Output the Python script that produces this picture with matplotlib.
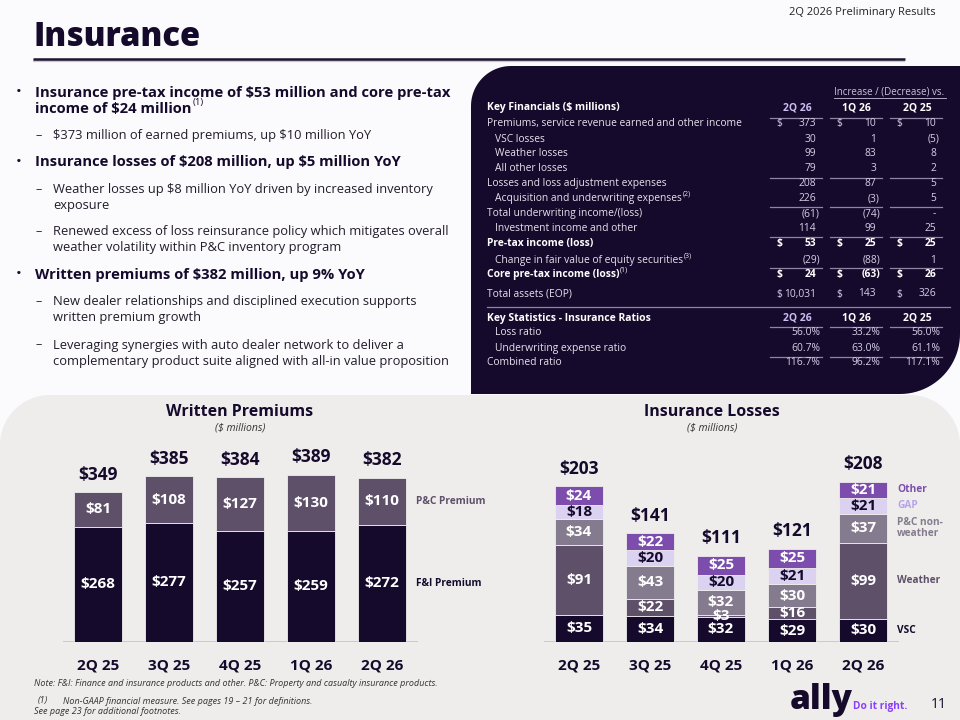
import numpy as np
import matplotlib.pyplot as plt
from matplotlib.patches import Polygon

plt.rcParams['font.family'] = ['Open Sans', 'DejaVu Sans']

# ── data ──────────────────────────────────────────────────────────────────────
QUARTERS = ["2Q 25", "3Q 25", "4Q 25", "1Q 26", "2Q 26"]

FI_PREMIUM    = [268, 277, 257, 259, 272]
PC_PREMIUM    = [81, 108, 127, 130, 110]
WRITTEN_TOTAL = [349, 385, 384, 389, 382]

LOSS_VSC           = [35, 34, 32, 29, 30]
LOSS_WEATHER       = [91, 22, 3, 16, 99]
LOSS_PC_NONWEATHER = [34, 43, 32, 30, 37]
LOSS_GAP           = [18, 20, 20, 21, 21]
LOSS_OTHER         = [24, 22, 25, 25, 21]
LOSS_TOTAL         = [203, 141, 111, 121, 208]

TABLE_HEADERS = ["2Q 26", "1Q 26", "2Q 25"]
FIN_LABELS = [
    "Premiums, service revenue earned and other income",
    "VSC losses",
    "Weather losses",
    "All other losses",
    "Losses and loss adjustment expenses",
    "Acquisition and underwriting expenses",
    "Total underwriting income/(loss)",
    "Investment income and other",
    "Pre-tax income (loss)",
    "Change in fair value of equity securities",
    "Core pre-tax income (loss)",
    "Total assets (EOP)",
]
FIN_2Q26     = [373, 30, 99, 79, 208, 226, -61, 114, 53, -29, 24, 10031]
FIN_VS_1Q26  = [10, 1, 83, 3, 87, -3, -74, 99, 25, -88, -63, 143]
FIN_VS_2Q25  = [10, -5, 8, 2, 5, 5, 0, 25, 25, 1, 26, 326]

RATIO_LABELS = ["Loss ratio", "Underwriting expense ratio", "Combined ratio"]
RATIO_2Q26 = [56.0, 60.7, 116.7]
RATIO_1Q26 = [33.2, 63.0, 96.2]
RATIO_2Q25 = [56.0, 61.1, 117.1]

BULLETS = [
    (0, ["Insurance pre-tax income of $53 million and core pre-tax",
         "income of $24 million"], "(1)"),
    (1, ["$373 million of earned premiums, up $10 million YoY"], None),
    (0, ["Insurance losses of $208 million, up $5 million YoY"], None),
    (1, ["Weather losses up $8 million YoY driven by increased inventory",
         "exposure"], None),
    (1, ["Renewed excess of loss reinsurance policy which mitigates overall",
         "weather volatility within P&C inventory program"], None),
    (0, ["Written premiums of $382 million, up 9% YoY"], None),
    (1, ["New dealer relationships and disciplined execution supports",
         "written premium growth"], None),
    (1, ["Leveraging synergies with auto dealer network to deliver a",
         "complementary product suite aligned with all-in value proposition"], None),
]

# ── style ─────────────────────────────────────────────────────────────────────
W, H = 960, 720
DARK      = "#150a2b"
PC_COL    = "#5e5069"
PCNW_COL  = "#857b8e"
GAP_COL   = "#dbd2f1"
OTHER_COL = "#7c4dac"
LAV       = "#cbbdf0"
TBL_NUM   = "#d6cfe8"
TBL_LINE  = "#8d85a3"
BG        = "#fbfbfd"
GRAY_BG   = "#eeedeb"


def rounded_poly(x0, y0, x1, y1, tl=0, tr=0, br=0, bl=0, n=24):
    """Rectangle in pixel coords (y down) with individual corner radii."""
    t = np.linspace(0, np.pi / 2, n)
    pts = []
    if tl:
        cx, cy = x0 + tl, y0 + tl
        pts += list(zip(cx - tl * np.cos(t), cy - tl * np.sin(t)))
    else:
        pts.append((x0, y0))
    if tr:
        cx, cy = x1 - tr, y0 + tr
        pts += list(zip(cx + tr * np.sin(t), cy - tr * np.cos(t)))
    else:
        pts.append((x1, y0))
    if br:
        cx, cy = x1 - br, y1 - br
        pts += list(zip(cx + br * np.cos(t), cy + br * np.sin(t)))
    else:
        pts.append((x1, y1))
    if bl:
        cx, cy = x0 + bl, y1 - bl
        pts += list(zip(cx - bl * np.sin(t), cy + bl * np.cos(t)))
    else:
        pts.append((x0, y1))
    return pts


def fmt_money(v):
    if v == 0:
        return "-"
    if v < 0:
        return f"({abs(v):,})"
    return f"{v:,}"


fig = plt.figure(figsize=(W / 100, H / 100), dpi=100)
fig.patch.set_facecolor(BG)

bg = fig.add_axes([0, 0, 1, 1])
bg.set_xlim(0, W)
bg.set_ylim(H, 0)
bg.axis("off")
bg.set_zorder(0)


def T(x, y, s, **kw):
    kw.setdefault("va", "center")
    kw.setdefault("parse_math", False)
    return bg.text(x, y, s, **kw)


def sup(t, s, size, color):
    bg.annotate(s, xy=(1, 0.95), xycoords=t, xytext=(0.5, 0),
                textcoords="offset points", fontsize=size, ha="left",
                va="center", color=color)


# ── panels ────────────────────────────────────────────────────────────────────
bg.add_patch(Polygon(rounded_poly(471, 66, 960, 394, tl=40, br=60),
                     closed=True, fc=DARK, ec="none"))
bg.add_patch(Polygon(rounded_poly(0, 395, 960, 722, tl=50, tr=50),
                     closed=True, fc=GRAY_BG, ec="none"))

# ── header / title ────────────────────────────────────────────────────────────
T(936, 12, "2Q 2026 Preliminary Results", ha="right", fontsize=8, color="#222")
T(33, 37, "Insurance", fontsize=23.5, fontweight="heavy", color=DARK)
bg.plot([33, 905], [61, 61], color="#c9c8cf", lw=1.6, solid_capstyle="butt")
bg.plot([33, 905], [58.5, 58.5], color="#1c1430", lw=1.8, solid_capstyle="butt")

# ── bullets ───────────────────────────────────────────────────────────────────
BULLET_Y = [93, 136, 162, 190, 232, 275, 302, 345]
for (lvl, lines, note), y in zip(BULLETS, BULLET_Y):
    if lvl == 0:
        T(16, y, "•", fontsize=11, color=DARK)
        x, kw = 35, dict(fontsize=10.6, fontweight="bold", color=DARK)
    else:
        T(35, y, "–", fontsize=9, color="#222")
        x, kw = 53, dict(fontsize=9.3, color="#221c2a")
    for i, line in enumerate(lines):
        t = T(x, y + 16 * i, line, **kw)
    if note:
        sup(t, note, 6.8, DARK)

# ── key financials table ──────────────────────────────────────────────────────
COL_RIGHT  = [816, 876, 936]
COL_DOLLAR = [779, 839, 899]
COL_CENTER = [797, 856, 917]
COL_SPAN   = [(770, 822), (830, 882), (890, 942)]
FIN_ROW_Y  = [123.7, 139, 153.7, 168.7, 183.7, 198.7, 213.7, 228.7,
              243.7, 260.5, 274.5, 294]
FIN_INDENT = {1, 2, 3, 5, 7, 9}
FIN_BOLD   = {8, 10}
FIN_DOLLAR = {0, 8, 10, 11}
FIN_SUP    = {5: "(2)", 9: "(3)", 10: "(1)"}
LINE_ABOVE = [177.7, 207.3, 237.3, 268.3]
FS_TBL = 7.35

T(834, 92, "Increase / (Decrease) vs.", fontsize=7, color="#c9c2dc")
bg.plot([834, 946], [97.5, 97.5], color="#c9c2dc", lw=0.6)

T(487, 107.7, "Key Financials ($ millions)", fontsize=7.5, fontweight="bold", color="white")
for c, (h, xc) in enumerate(zip(TABLE_HEADERS, COL_CENTER)):
    T(xc, 107.7, h, ha="center", fontsize=7.5, fontweight="bold",
      color=LAV if c == 0 else "white")


def col_lines(y):
    for a, b in COL_SPAN:
        bg.plot([a, b], [y, y], color=TBL_LINE, lw=0.9)


col_lines(117.7)
for y in LINE_ABOVE:
    col_lines(y)

for i, lab in enumerate(FIN_LABELS):
    y = FIN_ROW_Y[i]
    bold = i in FIN_BOLD
    fw = "bold" if bold else "normal"
    lc = "white" if bold else "#e6e2ee"
    t = T(495 if i in FIN_INDENT else 487, y, lab, fontsize=FS_TBL, fontweight=fw, color=lc)
    if i in FIN_SUP:
        sup(t, FIN_SUP[i], 5, lc)
    for c, vals in enumerate([FIN_2Q26, FIN_VS_1Q26, FIN_VS_2Q25]):
        v = vals[i]
        nc = "white" if bold else TBL_NUM
        xr = COL_RIGHT[c] + (4 if v < 0 else 0)
        T(xr, y, fmt_money(v), ha="right", fontsize=FS_TBL, fontweight=fw, color=nc)
        if i in FIN_DOLLAR:
            T(COL_DOLLAR[c], y, "$", ha="center", fontsize=FS_TBL, fontweight=fw, color=nc)

bg.plot([487, 950], [307.3, 307.3], color=TBL_LINE, lw=0.9)

T(487, 318.3, "Key Statistics - Insurance Ratios", fontsize=7.5, fontweight="bold", color="white")
for c, (h, xc) in enumerate(zip(TABLE_HEADERS, COL_CENTER)):
    T(xc, 318.3, h, ha="center", fontsize=7.5, fontweight="bold",
      color=LAV if c == 0 else "white")
col_lines(327.3)
col_lines(357.3)
RATIO_ROW_Y = [332.7, 348.3, 362.7]
for i, lab in enumerate(RATIO_LABELS):
    y = RATIO_ROW_Y[i]
    T(495 if i < 2 else 487, y, lab, fontsize=FS_TBL, color="#e6e2ee")
    for c, vals in enumerate([RATIO_2Q26, RATIO_1Q26, RATIO_2Q25]):
        T(COL_RIGHT[c] + 4, y, f"{vals[i]:.1f}%", ha="right", fontsize=FS_TBL, color=TBL_NUM)

# ── chart titles ──────────────────────────────────────────────────────────────
T(240, 412, "Written Premiums", ha="center", fontsize=11.5, fontweight="bold", color=DARK)
T(240, 427.5, "($ millions)", ha="center", fontsize=7.5, style="italic", color="#333")
T(712, 412, "Insurance Losses", ha="center", fontsize=11.5, fontweight="bold", color=DARK)
T(712, 427.5, "($ millions)", ha="center", fontsize=7.5, style="italic", color="#333")


def chart_axes(x0, x1, y0, y1, ymax):
    ax = fig.add_axes([x0 / W, 1 - y1 / H, (x1 - x0) / W, (y1 - y0) / H])
    ax.set_zorder(2)
    ax.set_facecolor("none")
    ax.set_xlim(-0.5, 4.5)
    ax.set_ylim(0, ymax)
    for s in ax.spines.values():
        s.set_visible(False)
    ax.set_yticks([])
    ax.set_xticks(range(len(QUARTERS)), QUARTERS)
    ax.tick_params(axis="x", length=0, pad=12, labelsize=11, colors=DARK)
    for lab in ax.get_xticklabels():
        lab.set_fontweight("bold")
    ax.axhline(0, color="#cdbdf0", lw=1.3, zorder=1)
    return ax


def stack(ax, series, colors, txtcolors, fs):
    x = np.arange(len(QUARTERS))
    bottom = np.zeros(len(QUARTERS))
    bars = None
    for vals, col, tc in zip(series, colors, txtcolors):
        bars = ax.bar(x, vals, 0.665, bottom=bottom, color=col,
                      edgecolor=GRAY_BG, linewidth=0.6, zorder=2)
        ax.bar_label(bars, labels=[f"${v}" for v in vals], label_type="center",
                     fontsize=fs, fontweight="bold", color=tc, parse_math=False)
        bottom += np.array(vals)
    return bars, bottom


# written premiums
ax1 = chart_axes(62.5, 417.5, 440, 641.6, 470)
top, _ = stack(ax1, [FI_PREMIUM, PC_PREMIUM], [DARK, PC_COL], ["white", "white"], 11)
ax1.bar_label(top, labels=[f"${v}" for v in WRITTEN_TOTAL], padding=6,
              fontsize=12.5, fontweight="bold", color=DARK, parse_math=False)
ax1.text(4.48, FI_PREMIUM[-1] + PC_PREMIUM[-1] / 2, "P&C Premium", fontsize=7.3,
         fontweight="bold", color=PC_COL, va="center")
ax1.text(4.48, FI_PREMIUM[-1] / 2, "F&I Premium", fontsize=7.3,
         fontweight="bold", color=DARK, va="center")

# insurance losses
loss_series = [LOSS_VSC, LOSS_WEATHER, LOSS_PC_NONWEATHER, LOSS_GAP, LOSS_OTHER]
loss_colors = [DARK, PC_COL, PCNW_COL, GAP_COL, OTHER_COL]
loss_txt = ["white", "white", "white", DARK, "white"]
loss_names = ["VSC", "Weather", "P&C non-\nweather", "GAP", "Other"]
loss_name_col = [DARK, PC_COL, PCNW_COL, "#b7a3e8", OTHER_COL]
ax2 = chart_axes(543.5, 898.5, 440, 641.7, 262.3)
top, _ = stack(ax2, loss_series, loss_colors, loss_txt, 11)
ax2.bar_label(top, labels=[f"${v}" for v in LOSS_TOTAL], padding=6,
              fontsize=12.5, fontweight="bold", color=DARK, parse_math=False)
base = 0
for vals, name, col in zip(loss_series, loss_names, loss_name_col):
    ax2.text(4.48, base + vals[-1] / 2, name, fontsize=7.3, fontweight="bold",
             color=col, va="center", linespacing=1.0)
    base += vals[-1]

# ── footnotes & logo ──────────────────────────────────────────────────────────
T(34, 684, "Note: F&I: Finance and insurance products and other. P&C: Property and casualty insurance products.",
  fontsize=6.5, style="italic", color="#333")
T(38, 701, "(1)", fontsize=6.5, style="italic", color="#333")
T(63, 701, "Non-GAAP financial measure. See pages 19 – 21 for definitions.",
  fontsize=6.5, style="italic", color="#333")
T(34, 711, "See page 23 for additional footnotes.", fontsize=6.5, style="italic", color="#333")

T(790, 709, "ally", fontsize=24, fontweight="heavy", color=DARK, va="baseline")
T(853, 709, "Do it right.", fontsize=7.3, fontweight="bold", color="#8a3ffc", va="baseline")
T(931, 705, "11", fontsize=10, color=DARK)

fig.savefig("out.png", dpi=100, facecolor=BG)
